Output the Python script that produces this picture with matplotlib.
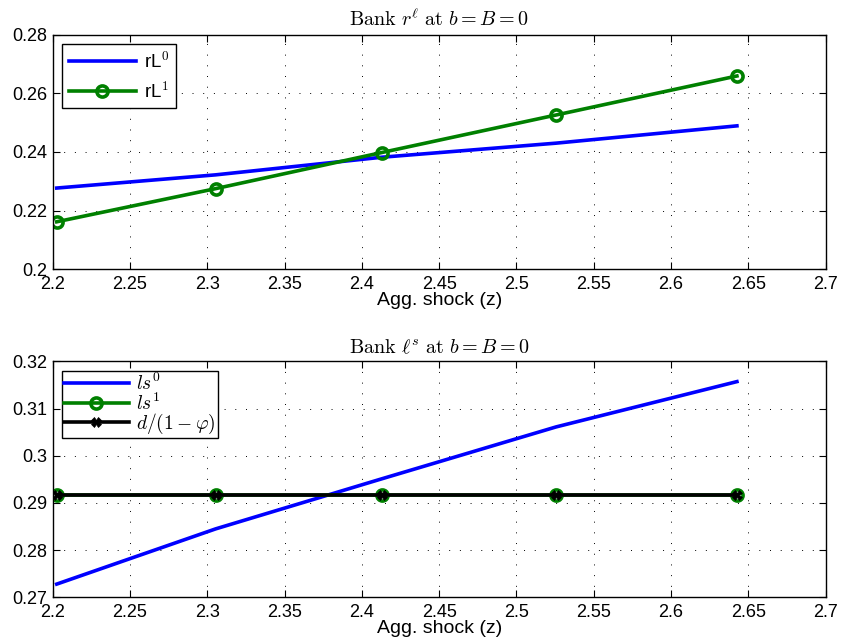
import matplotlib
matplotlib.use("Agg")
import matplotlib.pyplot as plt
from matplotlib.ticker import FuncFormatter

plt.rcParams['font.family'] = ['Liberation Sans', 'DejaVu Sans']
plt.rcParams['mathtext.fontset'] = 'cm'

z = [2.2026, 2.3054, 2.4128, 2.5256, 2.6426]
rL0 = [0.2277, 0.2322, 0.2382, 0.2430, 0.2489]
rL1 = [0.2162, 0.2275, 0.2398, 0.2526, 0.2659]
ls0 = [0.2728, 0.2845, 0.2951, 0.3061, 0.3157]
ls1 = [0.2917, 0.2917, 0.2917, 0.2917, 0.2917]
dphi = [0.2917, 0.2917, 0.2917, 0.2917, 0.2917]

xticks = [2.2, 2.25, 2.3, 2.35, 2.4, 2.45, 2.5, 2.55, 2.6, 2.65, 2.7]
yticks_top = [0.2, 0.22, 0.24, 0.26, 0.28]
yticks_bot = [0.27, 0.28, 0.29, 0.30, 0.31, 0.32]

fig = plt.figure(figsize=(8.42, 6.42), dpi=100)
ax1 = fig.add_axes([0.0626, 0.5805, 0.918, 0.3656])
ax2 = fig.add_axes([0.0626, 0.0696, 0.918, 0.3676])

fmt = FuncFormatter(lambda v, p: ('%g' % round(v, 4)))

def style(ax, yt):
    ax.set_xlim(2.2, 2.7)
    ax.set_xticks(xticks)
    ax.set_yticks(yt)
    ax.set_ylim(yt[0], yt[-1])
    ax.xaxis.set_major_formatter(fmt)
    ax.yaxis.set_major_formatter(fmt)
    ax.grid(True, linestyle=(0, (1, 10)), color='black', linewidth=0.7)
    ax.tick_params(direction='in', top=True, right=True, labelsize=13, length=5, width=0.8)
    ax.tick_params(axis='x', pad=5)
    ax.tick_params(axis='y', pad=4)
    for s in ax.spines.values():
        s.set_linewidth(1.0)
    ax.set_xlabel('Agg. shock (z)', fontsize=14, labelpad=-1)

ax1.plot(z, rL0, color='#0000ff', lw=2.6, label=r'rL$^{\mathsf{0}}$')
ax1.plot(z, rL1, color='#008000', lw=2.6, marker='o', ms=8, mfc='none', mew=2.6, label=r'rL$^{\mathsf{1}}$')
style(ax1, yticks_top)
ax1.set_title(r'$\mathrm{Bank}\ r^{\ell}\ \mathrm{at}\ b=B=0$', fontsize=14.5, pad=6)
leg1 = ax1.legend(loc='upper left', fontsize=13.5, handlelength=3.6, fancybox=False,
                  edgecolor='black', framealpha=1, borderpad=0.35, labelspacing=0.5,
                  handletextpad=0.4, borderaxespad=0.5)
leg1.get_frame().set_linewidth(1.0)

ax2.plot(z, ls0, color='#0000ff', lw=2.6, label=r'$ls^0$')
ax2.plot(z, ls1, color='#008000', lw=2.6, marker='o', ms=8, mfc='none', mew=2.6, label=r'$ls^1$')
ax2.plot(z, dphi, color='black', lw=2.6, marker='X', ms=7, mew=0.5, label=r'$d/(1-\varphi)$')
style(ax2, yticks_bot)
ax2.set_title(r'$\mathrm{Bank}\ \ell^{s}\ \mathrm{at}\ b=B=0$', fontsize=14.5, pad=6)
leg2 = ax2.legend(loc='upper left', fontsize=14, handlelength=3.3, fancybox=False,
                  edgecolor='black', framealpha=1, borderpad=0.1, labelspacing=-0.1,
                  handletextpad=0.4, borderaxespad=0.5)
leg2.get_frame().set_linewidth(1.0)

fig.savefig('out.png', dpi=100)
